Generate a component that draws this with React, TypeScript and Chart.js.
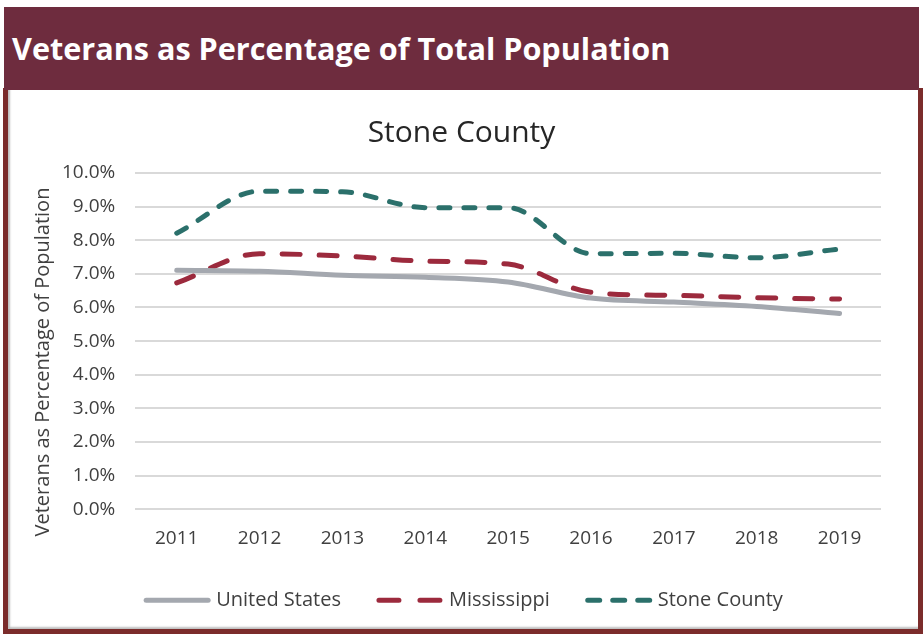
import React, { useEffect, useRef } from "react";
import { Chart, registerables } from "chart.js";

Chart.register(...registerables);

const years = ["2011", "2012", "2013", "2014", "2015", "2016", "2017", "2018", "2019"];
const unitedStates = [7.11, 7.08, 6.96, 6.9, 6.76, 6.28, 6.16, 6.03, 5.82];
const mississippi = [6.73, 7.6, 7.53, 7.38, 7.29, 6.45, 6.36, 6.29, 6.25];
const stoneCounty = [8.21, 9.46, 9.44, 8.97, 8.97, 7.6, 7.61, 7.48, 7.74];
const yTicks = [0, 1, 2, 3, 4, 5, 6, 7, 8, 9, 10];

const FONT = "'Open Sans', sans-serif";
const TEXT = "#404040";
const legendDashes: number[][] = [[], [20, 21], [12, 13]];

const yTitlePlugin = {
  id: "yTitle",
  afterDraw(chart: any) {
    const ctx = chart.ctx;
    ctx.save();
    ctx.translate(33, 267);
    ctx.rotate(-Math.PI / 2);
    ctx.font = `20px ${FONT}`;
    ctx.fillStyle = TEXT;
    ctx.textAlign = "center";
    ctx.textBaseline = "middle";
    ctx.fillText("Veterans as Percentage of Population", 0, 0);
    ctx.restore();
  },
};

const legendPlugin = {
  id: "bottomLegend",
  afterDraw(chart: any) {
    const ctx = chart.ctx;
    const sets = chart.data.datasets;
    const sample = 62;
    const gapText = 8;
    const gapItem = 38;
    ctx.save();
    ctx.font = `20px ${FONT}`;
    const widths = sets.map((d: any) => sample + gapText + ctx.measureText(d.label).width);
    const total = widths.reduce((a: number, b: number) => a + b, 0) + gapItem * (sets.length - 1);
    let x = chart.width / 2 - total / 2 + 2;
    const y = chart.chartArea.bottom + 91;
    sets.forEach((d: any, i: number) => {
      ctx.beginPath();
      ctx.setLineDash(legendDashes[i]);
      ctx.lineCap = "round";
      ctx.lineWidth = 5;
      ctx.strokeStyle = d.borderColor;
      ctx.moveTo(x, y);
      ctx.lineTo(x + sample, y);
      ctx.stroke();
      ctx.setLineDash([]);
      ctx.fillStyle = TEXT;
      ctx.textAlign = "left";
      ctx.textBaseline = "middle";
      ctx.fillText(d.label, x + sample + gapText, y);
      x += widths[i] + gapItem;
    });
    ctx.restore();
  },
};

export default function App() {
  const ref = useRef<HTMLCanvasElement>(null);
  useEffect(() => {
    const chart = new Chart(ref.current!, {
      type: "line",
      data: {
        labels: years,
        datasets: [
          {
            label: "United States",
            data: unitedStates,
            borderColor: "#A4A8AF",
            backgroundColor: "#A4A8AF",
            borderWidth: 5,
            borderCapStyle: "round",
            pointRadius: 0,
            cubicInterpolationMode: "monotone",
          },
          {
            label: "Mississippi",
            data: mississippi,
            borderColor: "#9C2A3D",
            backgroundColor: "#9C2A3D",
            borderWidth: 5,
            borderDash: [18, 19],
            borderCapStyle: "round",
            pointRadius: 0,
            cubicInterpolationMode: "monotone",
          },
          {
            label: "Stone County",
            data: stoneCounty,
            borderColor: "#2B706B",
            backgroundColor: "#2B706B",
            borderWidth: 5,
            borderDash: [11, 14],
            borderCapStyle: "round",
            pointRadius: 0,
            cubicInterpolationMode: "monotone",
          },
        ],
      },
      options: {
        animation: false,
        responsive: false,
        maintainAspectRatio: false,
        layout: { padding: { left: 32, right: 34, top: 0, bottom: 80 } },
        plugins: {
          title: {
            display: true,
            text: "Stone County",
            color: "#262626",
            font: { family: FONT, size: 30, weight: "normal" },
            padding: { top: 20, bottom: 22 },
          },
          legend: { display: false },
          tooltip: { enabled: false },
        },
        scales: {
          x: {
            offset: true,
            grid: { display: false },
            border: { display: false },
            ticks: { color: TEXT, font: { family: FONT, size: 19 }, padding: 10 },
          },
          y: {
            min: 0,
            max: 10,
            afterBuildTicks: (axis: any) => {
              axis.ticks = yTicks.map((v) => ({ value: v }));
            },
            grid: { color: "#D9D9D9", lineWidth: 2, drawTicks: false },
            border: { display: false },
            ticks: {
              color: TEXT,
              font: { family: FONT, size: 19 },
              padding: 20,
              callback: (v: any) => Number(v).toFixed(1) + "%",
            },
          },
        },
      },
      plugins: [yTitlePlugin, legendPlugin],
    });
    return () => chart.destroy();
  }, []);

  return (
    <div style={{ position: "absolute", left: 0, top: 0, width: 923, height: 640, background: "#fff", overflow: "hidden" }}>
      <div
        style={{
          position: "absolute",
          left: 3,
          top: 88,
          width: 910,
          height: 541,
          borderLeft: "5px solid #7B2C2B",
          borderRight: "5px solid #7B2C2B",
          borderBottom: "5px solid #7B2C2B",
          boxShadow: "inset 2px -2px 2px #BFBFBF",
        }}
      />
      <div
        style={{
          position: "absolute",
          left: 4,
          top: 7,
          width: 915,
          height: 83,
          background: "#6E2C3E",
          color: "#fff",
          fontFamily: FONT,
          fontWeight: 700,
          fontSize: 30.6,
          lineHeight: "83px",
          paddingLeft: 8,
          boxSizing: "border-box",
          whiteSpace: "nowrap",
        }}
      >
        Veterans as Percentage of Total Population
      </div>
      <canvas ref={ref} width={905} height={545} style={{ position: "absolute", left: 10, top: 95 }} />
    </div>
  );
}
